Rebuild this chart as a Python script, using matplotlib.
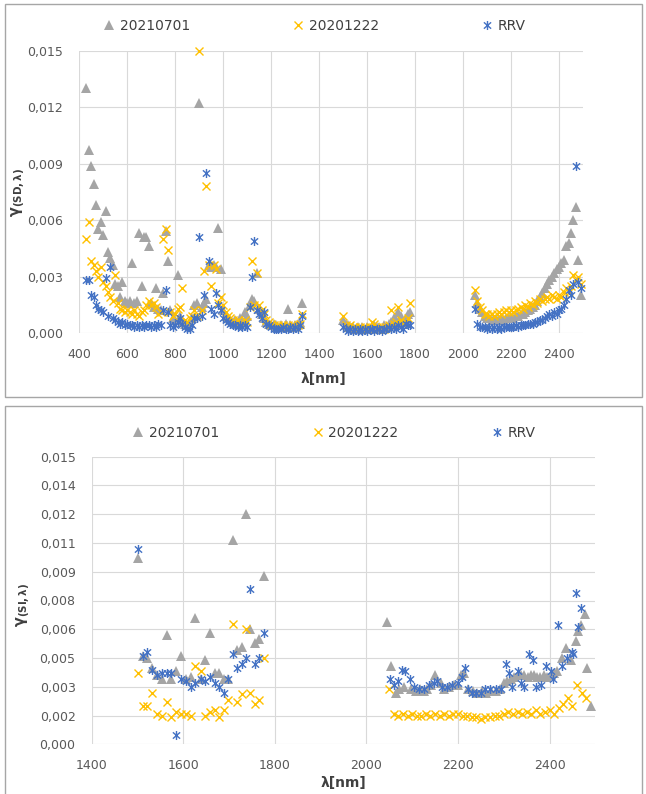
import matplotlib
matplotlib.use('Agg')
import matplotlib.pyplot as plt
from matplotlib.path import Path
from matplotlib.lines import Line2D
from matplotlib.patches import Rectangle

plt.rcParams['font.family'] = ['DejaVu Sans']
plt.rcParams['mathtext.fontset'] = 'dejavusans'

series_names = ['20210701', '20201222', 'RRV']
colors = ['#A5A5A5', '#FFC000', '#4472C4']

# ---------------- top panel: gamma(SD, lambda) ----------------
wl_top_vis = [430, 440, 450, 460, 470, 480, 490, 500, 510, 520, 530, 540, 550, 560, 570,
              580, 590, 600, 610, 620, 630, 640, 650, 660, 670, 680, 690, 700, 710, 720,
              730, 740, 750, 760, 770, 780, 790, 800, 810, 820, 830, 840, 850, 860, 870,
              880, 890, 900, 910, 920, 930, 940, 950, 960, 970, 980, 990, 1000, 1010, 1020,
              1030, 1040, 1050, 1060, 1070, 1080, 1090, 1100, 1110, 1120, 1130, 1140, 1150,
              1160, 1170, 1180, 1190, 1200, 1210, 1220, 1230, 1240, 1250, 1260, 1270, 1280,
              1290, 1300, 1310, 1320, 1330]
top_vis_20210701 = [0.0130, 0.0097, 0.0089, 0.0079, 0.0068, 0.0055, 0.0059, 0.0052, 0.0065, 0.0043,
                    0.0040, 0.0036, 0.0026, 0.0025, 0.0019, 0.0027, 0.0017, 0.0016, 0.0017, 0.0037,
                    0.0016, 0.0017, 0.0053, 0.0025, 0.0051, 0.0051, 0.0046, 0.0016, 0.0014, 0.0024,
                    0.0013, 0.0012, 0.0021, 0.0054, 0.0038, 0.0012, 0.0008, 0.0007, 0.0031, 0.0009,
                    0.0006, 0.0005, 0.0004, 0.0006, 0.0008, 0.0015, 0.0016, 0.0122, 0.0014, 0.0016,
                    0.0018, 0.0036, 0.0035, 0.0036, 0.0035, 0.0056, 0.0034, 0.0012, 0.0009, 0.0008,
                    0.0007, 0.0006, 0.0007, 0.0005, 0.0008, 0.0006, 0.0011, 0.0009, 0.0015, 0.0018,
                    0.0017, 0.0032, 0.0013, 0.0010, 0.0008, 0.0006, 0.0005, 0.0004, 0.0005, 0.0004,
                    0.0003, 0.0004, 0.0003, 0.0005, 0.0013, 0.0004, 0.0003, 0.0004, 0.0005, 0.0006,
                    0.0016]
top_vis_20201222 = [0.0050, 0.0059, 0.0038, 0.0036, 0.0033, 0.0030, 0.0035, 0.0027, 0.0025, 0.0022,
                    0.0019, 0.0017, 0.0031, 0.0016, 0.0013, 0.0012, 0.0011, 0.0012, 0.0011, 0.0010,
                    0.0012, 0.0010, 0.0009, 0.0011, 0.0012, 0.0015, 0.0017, 0.0015, 0.0016, 0.0014,
                    0.0010, 0.0011, 0.0050, 0.0055, 0.0044, 0.0011, 0.0009, 0.0010, 0.0013, 0.0014,
                    0.0024, 0.0007, 0.0006, 0.0008, 0.0009, 0.0012, 0.0009, 0.0150, 0.0012, 0.0033,
                    0.0078, 0.0036, 0.0025, 0.0036, 0.0034, 0.0016, 0.0019, 0.0015, 0.0011, 0.0009,
                    0.0008, 0.0007, 0.0006, 0.0007, 0.0006, 0.0005, 0.0007, 0.0006, 0.0014, 0.0038,
                    0.0015, 0.0032, 0.0015, 0.0012, 0.0010, 0.0007, 0.0006, 0.0005, 0.0004, 0.0003,
                    0.0004, 0.0003, 0.0004, 0.0003, 0.0004, 0.0003, 0.0004, 0.0003, 0.0004, 0.0005,
                    0.0010]
top_vis_RRV = [0.0028, 0.0028, 0.0020, 0.0019, 0.0015, 0.0013, 0.0012, 0.0011, 0.0029, 0.0009,
               0.0035, 0.0008, 0.0007, 0.0006, 0.0005, 0.0006, 0.0004, 0.0005, 0.0004, 0.0004,
               0.0003, 0.0004, 0.0003, 0.0004, 0.0003, 0.0004, 0.0004, 0.0003, 0.0004, 0.0003,
               0.0005, 0.0004, 0.0012, 0.0023, 0.0011, 0.0004, 0.0003, 0.0004, 0.0006, 0.0008,
               0.0005, 0.0003, 0.0002, 0.0002, 0.0004, 0.0008, 0.0008, 0.0051, 0.0009, 0.0020,
               0.0085, 0.0038, 0.0013, 0.0010, 0.0021, 0.0015, 0.0012, 0.0008, 0.0007, 0.0006,
               0.0005, 0.0004, 0.0004, 0.0003, 0.0004, 0.0003, 0.0004, 0.0003, 0.0014, 0.0030,
               0.0049, 0.0012, 0.0010, 0.0008, 0.0011, 0.0005, 0.0004, 0.0003, 0.0002, 0.0002,
               0.0002, 0.0002, 0.0003, 0.0002, 0.0002, 0.0003, 0.0002, 0.0003, 0.0002, 0.0004,
               0.0009]

wl_top_mid = [1500, 1510, 1520, 1530, 1540, 1550, 1560, 1570, 1580, 1590, 1600, 1610, 1620, 1630,
              1640, 1650, 1660, 1670, 1680, 1690, 1700, 1710, 1720, 1730, 1740, 1750, 1760, 1770,
              1780]
top_mid_20210701 = [0.0007, 0.0005, 0.0004, 0.0003, 0.0003, 0.0002, 0.0003, 0.0002, 0.0003, 0.0002,
                    0.0003, 0.0002, 0.0003, 0.0004, 0.0003, 0.0003, 0.0002, 0.0004, 0.0003, 0.0005,
                    0.0006, 0.0008, 0.0007, 0.0011, 0.0009, 0.0006, 0.0008, 0.0010, 0.0011]
top_mid_20201222 = [0.0009, 0.0004, 0.0003, 0.0004, 0.0003, 0.0003, 0.0002, 0.0003, 0.0002, 0.0003,
                    0.0002, 0.0003, 0.0006, 0.0005, 0.0003, 0.0002, 0.0003, 0.0002, 0.0003, 0.0004,
                    0.0012, 0.0005, 0.0006, 0.0014, 0.0007, 0.0005, 0.0006, 0.0008, 0.0016]
top_mid_RRV = [0.0003, 0.0002, 0.0001, 0.0002, 0.0001, 0.0002, 0.0001, 0.0002, 0.0001, 0.0002,
               0.0001, 0.0002, 0.0002, 0.0001, 0.0002, 0.0002, 0.0001, 0.0002, 0.0002, 0.0003,
               0.0002, 0.0003, 0.0002, 0.0004, 0.0003, 0.0002, 0.0005, 0.0004, 0.0004]

wl_top_swir = [2050, 2060, 2070, 2080, 2090, 2100, 2110, 2120, 2130, 2140, 2150, 2160, 2170, 2180,
               2190, 2200, 2210, 2220, 2230, 2240, 2250, 2260, 2270, 2280, 2290, 2300, 2310, 2320,
               2330, 2340, 2350, 2360, 2370, 2380, 2390, 2400, 2410, 2420, 2430, 2440, 2450, 2460,
               2470, 2480, 2490]
top_swir_20210701 = [0.0020, 0.0016, 0.0013, 0.0011, 0.0009, 0.0008, 0.0008, 0.0007, 0.0007, 0.0007,
                     0.0007, 0.0008, 0.0007, 0.0008, 0.0008, 0.0008, 0.0008, 0.0009, 0.0009, 0.0010,
                     0.0010, 0.0011, 0.0012, 0.0013, 0.0014, 0.0015, 0.0017, 0.0019, 0.0021, 0.0024,
                     0.0026, 0.0028, 0.0030, 0.0032, 0.0034, 0.0035, 0.0037, 0.0039, 0.0046, 0.0048,
                     0.0053, 0.0060, 0.0067, 0.0039, 0.0020]
top_swir_20201222 = [0.0023, 0.0017, 0.0014, 0.0012, 0.0010, 0.0010, 0.0009, 0.0010, 0.0009, 0.0010,
                     0.0011, 0.0010, 0.0011, 0.0012, 0.0011, 0.0012, 0.0011, 0.0012, 0.0013, 0.0014,
                     0.0013, 0.0015, 0.0014, 0.0016, 0.0015, 0.0017, 0.0016, 0.0018, 0.0017, 0.0018,
                     0.0019, 0.0018, 0.0020, 0.0019, 0.0018, 0.0020, 0.0019, 0.0022, 0.0024, 0.0022,
                     0.0025, 0.0031, 0.0028, 0.0030, 0.0026]
top_swir_RRV = [0.0013, 0.0005, 0.0003, 0.0003, 0.0003, 0.0002, 0.0003, 0.0002, 0.0003, 0.0002,
                0.0003, 0.0002, 0.0003, 0.0003, 0.0003, 0.0003, 0.0003, 0.0004, 0.0003, 0.0004,
                0.0004, 0.0004, 0.0005, 0.0005, 0.0005, 0.0006, 0.0006, 0.0007, 0.0007, 0.0008,
                0.0009, 0.0010, 0.0009, 0.0011, 0.0010, 0.0012, 0.0013, 0.0015, 0.0018, 0.0023,
                0.0020, 0.0026, 0.0089, 0.0027, 0.0024]

# ---------------- bottom panel: gamma(SI, lambda) ----------------
wl_bot_mid = [1501, 1512, 1521, 1532, 1543, 1553, 1564, 1574, 1585, 1596, 1607, 1617, 1627, 1638,
              1648, 1659, 1669, 1679, 1689, 1699, 1708, 1718, 1728, 1737, 1746, 1756, 1766, 1776]
bot_mid_20210701 = [0.0097, 0.0046, 0.0045, 0.0040, 0.0036, 0.0034, 0.0057, 0.0034, 0.0038, 0.0046,
                    0.0034, 0.0035, 0.0066, 0.0034, 0.0044, 0.0058, 0.0037, 0.0037, 0.0034, 0.0034,
                    0.01065, 0.0049, 0.0051, 0.0120, 0.0060, 0.0053, 0.0055, 0.0088]
bot_mid_20201222 = [0.0037, 0.0020, 0.0020, 0.0027, 0.0016, 0.0015, 0.0022, 0.0014, 0.0017, 0.0016,
                    0.0016, 0.0015, 0.0041, 0.0038, 0.0015, 0.0017, 0.0018, 0.0014, 0.0018, 0.0023,
                    0.0063, 0.0022, 0.0026, 0.0060, 0.0027, 0.0021, 0.0023, 0.0045]
bot_mid_RRV = [0.0102, 0.0046, 0.0048, 0.0039, 0.0036, 0.0037, 0.0037, 0.0037, 0.0005, 0.0034,
               0.0033, 0.0030, 0.0032, 0.0034, 0.0033, 0.0035, 0.0032, 0.0030, 0.0027, 0.0034,
               0.0047, 0.0040, 0.0042, 0.0045, 0.0081, 0.0042, 0.0045, 0.0058]

wl_bot_swir_20210701 = [2045, 2053, 2064, 2071, 2082, 2097, 2108, 2117, 2126, 2133, 2142, 2149, 2162,
                        2169, 2180, 2191, 2200, 2206, 2213, 2222, 2232, 2242, 2252, 2262, 2272, 2282,
                        2292, 2300, 2307, 2315, 2322, 2330, 2337, 2344, 2352, 2359, 2366, 2373, 2380,
                        2388, 2395, 2403, 2410, 2417, 2428, 2435, 2446, 2457, 2461, 2468, 2477, 2482,
                        2490]
bot_swir_20210701 = [0.0064, 0.0041, 0.0027, 0.0029, 0.0030, 0.0029, 0.0028, 0.0029, 0.0028, 0.0029,
                     0.0031, 0.0036, 0.0032, 0.0029, 0.0030, 0.0031, 0.0031, 0.0036, 0.0037, 0.0029,
                     0.0028, 0.0027, 0.0028, 0.0027, 0.0028, 0.0028, 0.0029, 0.0032, 0.0033, 0.0034,
                     0.0035, 0.0036, 0.0036, 0.0036, 0.0035, 0.0036, 0.0036, 0.0035, 0.0035, 0.0036,
                     0.0035, 0.0036, 0.0037, 0.0038, 0.0045, 0.0050, 0.0044, 0.0054, 0.0059, 0.0062,
                     0.0068, 0.0040, 0.0020]
wl_bot_swir_20201222 = [2050, 2060, 2070, 2080, 2090, 2100, 2110, 2120, 2130, 2140, 2150, 2160, 2170,
                        2180, 2190, 2200, 2210, 2220, 2230, 2240, 2250, 2260, 2270, 2280, 2290, 2300,
                        2310, 2320, 2330, 2340, 2350, 2360, 2370, 2380, 2390, 2400, 2410, 2420, 2430,
                        2440, 2450, 2460, 2470, 2480]
bot_swir_20201222 = [0.0029, 0.0016, 0.0015, 0.0016, 0.0015, 0.0016, 0.0015, 0.0015, 0.0016, 0.0015,
                     0.0016, 0.0015, 0.0016, 0.0015, 0.0016, 0.0016, 0.0015, 0.0015, 0.0014, 0.0014,
                     0.0013, 0.0014, 0.0014, 0.0015, 0.0015, 0.0016, 0.0017, 0.0016, 0.0017, 0.0016,
                     0.0017, 0.0016, 0.0018, 0.0016, 0.0017, 0.0018, 0.0016, 0.0019, 0.0021, 0.0024,
                     0.0020, 0.0031, 0.0027, 0.0024]
wl_bot_swir_RRV = [2051, 2060, 2068, 2078, 2085, 2095, 2104, 2115, 2126, 2137, 2148, 2155, 2166, 2177,
                   2188, 2199, 2209, 2215, 2222, 2231, 2239, 2250, 2260, 2271, 2282, 2293, 2304, 2312,
                   2319, 2330, 2337, 2344, 2355, 2363, 2370, 2381, 2392, 2403, 2408, 2419, 2428, 2439,
                   2448, 2452, 2457, 2461, 2468]
bot_swir_RRV = [0.0034, 0.0031, 0.0033, 0.0039, 0.0038, 0.0034, 0.0030, 0.0029, 0.0029, 0.0031,
                0.0032, 0.0033, 0.0030, 0.0030, 0.0031, 0.0032, 0.0035, 0.0040, 0.0029, 0.0027,
                0.0027, 0.0027, 0.0029, 0.0029, 0.0029, 0.0029, 0.0042, 0.0037, 0.0030, 0.0038,
                0.0032, 0.0030, 0.0047, 0.0044, 0.0030, 0.0031, 0.0041, 0.0038, 0.0034, 0.0062,
                0.0041, 0.0045, 0.0048, 0.0047, 0.0079, 0.0061, 0.0071]

top_xticks = [400, 600, 800, 1000, 1200, 1400, 1600, 1800, 2000, 2200, 2400]
top_yticks = [0.0, 0.003, 0.006, 0.009, 0.012, 0.015]
top_ylabels = ['0,000', '0,003', '0,006', '0,009', '0,012', '0,015']
bot_xticks = [1400, 1600, 1800, 2000, 2200, 2400]
bot_yticks = [0.0, 0.0015, 0.003, 0.0045, 0.006, 0.0075, 0.009, 0.0105, 0.012, 0.0135, 0.015]
bot_ylabels = ['0,000', '0,002', '0,003', '0,005', '0,006', '0,008', '0,009', '0,011', '0,012',
               '0,014', '0,015']

# ---------------- drawing ----------------
W, H = 646, 794
fig = plt.figure(figsize=(W / 100, H / 100), dpi=100)

star = Path([(0, -1), (0, 1), (-0.8, -0.7), (0.8, 0.7), (-0.8, 0.7), (0.8, -0.7)],
            [Path.MOVETO, Path.LINETO, Path.MOVETO, Path.LINETO, Path.MOVETO, Path.LINETO])

styles = [
    dict(marker='^', ms=6.5, mfc=colors[0], mec=colors[0], mew=0),
    dict(marker='x', ms=5.5, mec=colors[1], mew=1.0),
    dict(marker=star, ms=6.5, mec=colors[2], mfc='none', mew=1.0),
]

def fx(px):
    return px / W

def fy(py):
    return 1 - py / H

# outer frames
fig.patches.append(Rectangle((fx(5), fy(397)), fx(637), 393 / H, transform=fig.transFigure,
                             fill=False, ec='#A6A6A6', lw=1.0))
fig.patches.append(Rectangle((fx(5), fy(812)), fx(637), 406 / H, transform=fig.transFigure,
                             fill=False, ec='#A6A6A6', lw=1.0, clip_on=False))

def style_axes(ax, xlim, xticks, yticks, ylabels, ypad, xpad):
    ax.set_xlim(*xlim)
    ax.set_ylim(0, 0.015)
    ax.set_xticks(xticks)
    ax.set_yticks(yticks)
    ax.set_yticklabels(ylabels)
    ax.grid(True, color='#D9D9D9', lw=0.8)
    ax.set_axisbelow(True)
    for s in ax.spines.values():
        s.set_visible(False)
    ax.tick_params(axis='both', length=0, labelsize=9, labelcolor='#595959')
    ax.tick_params(axis='y', pad=ypad)
    ax.tick_params(axis='x', pad=xpad)

# top axes
ax1 = fig.add_axes([fx(79.3), fy(333), fx(583 - 79.3), 282.3 / H])
style_axes(ax1, (400, 2500), top_xticks, top_yticks, top_ylabels, 11.5, 10.6)
top_data = [
    [(wl_top_vis, top_vis_20210701), (wl_top_mid, top_mid_20210701), (wl_top_swir, top_swir_20210701)],
    [(wl_top_vis, top_vis_20201222), (wl_top_mid, top_mid_20201222), (wl_top_swir, top_swir_20201222)],
    [(wl_top_vis, top_vis_RRV), (wl_top_mid, top_mid_RRV), (wl_top_swir, top_swir_RRV)],
]
for i, segs in enumerate(top_data):
    for xs, ys in segs:
        ax1.plot(xs, ys, ls='none', clip_on=False, zorder=3 + i, **styles[i])

# bottom axes
ax2 = fig.add_axes([fx(91.5), fy(744.3), fx(595.4 - 91.5), 287.6 / H])
style_axes(ax2, (1400, 2500), bot_xticks, bot_yticks, bot_ylabels, 11.5, 10.6)
bot_data = [
    [(wl_bot_mid, bot_mid_20210701), (wl_bot_swir_20210701, bot_swir_20210701)],
    [(wl_bot_mid, bot_mid_20201222), (wl_bot_swir_20201222, bot_swir_20201222)],
    [(wl_bot_mid, bot_mid_RRV), (wl_bot_swir_RRV, bot_swir_RRV)],
]
for i, segs in enumerate(bot_data):
    for xs, ys in segs:
        ax2.plot(xs, ys, ls='none', clip_on=False, zorder=3 + i, **styles[i])

# legends
handles = [Line2D([], [], ls='none', **st) for st in styles]
fig.legend(handles, series_names, loc='center', bbox_to_anchor=(fx(314.5), fy(26)), ncol=3,
           frameon=False, fontsize=10, handlelength=0.8, handletextpad=0.35,
           columnspacing=7.4, labelcolor='#404040')
fig.legend(handles, series_names, loc='center', bbox_to_anchor=(fx(334), fy(433)), ncol=3,
           frameon=False, fontsize=10, handlelength=0.8, handletextpad=0.35,
           columnspacing=6.7, labelcolor='#404040')

# axis titles
fig.text(fx(19), fy(193), r'$\mathbf{\gamma}_{\mathbf{(SD,\lambda)}}$', rotation=90,
         ha='center', va='center', fontsize=10.5, color='#404040')
fig.text(fx(24), fy(605), r'$\mathbf{\gamma}_{\mathbf{(SI,\lambda)}}$', rotation=90,
         ha='center', va='center', fontsize=10.5, color='#404040')
fig.text(fx(323), fy(379), 'λ[nm]', ha='center', va='center', fontsize=10,
         fontweight='bold', color='#404040')
fig.text(fx(343), fy(783), 'λ[nm]', ha='center', va='center', fontsize=10,
         fontweight='bold', color='#404040')

fig.savefig('out.png', dpi=100)
